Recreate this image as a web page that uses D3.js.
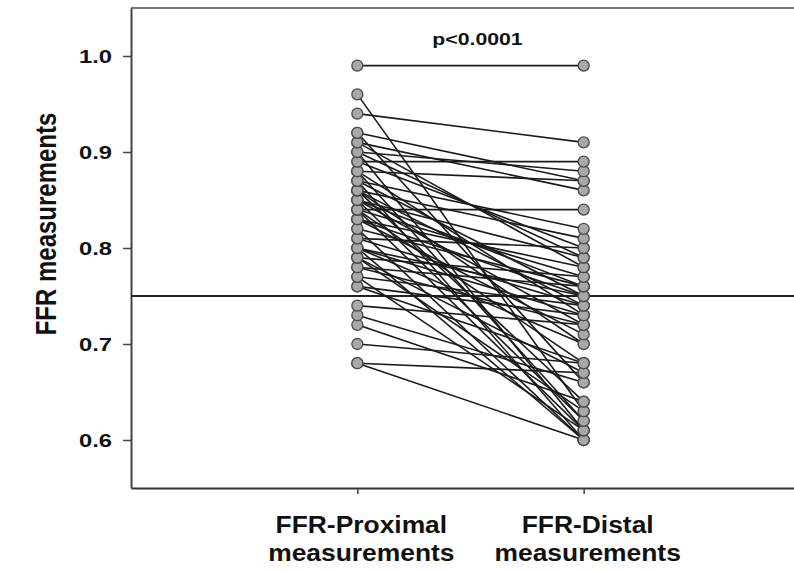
<!DOCTYPE html>
<html>
<head>
<meta charset="utf-8">
<script src="https://cdn.jsdelivr.net/npm/d3@7"></script>
<style>
  body { margin: 0; background: #fff; }
  text { font-family: "Liberation Sans", Arial, sans-serif; font-weight: bold; fill: #111; }
</style>
</head>
<body>
<svg width="794" height="571"></svg>
<script>
const categories = [["FFR-Proximal", "measurements"], ["FFR-Distal", "measurements"]];
const proximal = [0.99, 0.96, 0.94, 0.92, 0.92, 0.91, 0.91, 0.90, 0.90, 0.89, 0.89, 0.88, 0.88, 0.87, 0.87, 0.87,
    0.86, 0.86, 0.86, 0.85, 0.85, 0.85, 0.84, 0.84, 0.84, 0.83, 0.83, 0.82, 0.82, 0.81, 0.81, 0.80,
    0.80, 0.80, 0.79, 0.79, 0.78, 0.78, 0.77, 0.77, 0.76, 0.76, 0.74, 0.73, 0.72, 0.70, 0.68, 0.68,
    0.88, 0.84, 0.80, 0.79, 0.86, 0.83, 0.90, 0.85];
const distal = [0.99, 0.63, 0.91, 0.87, 0.66, 0.86, 0.78, 0.88, 0.61, 0.89, 0.80, 0.87, 0.73, 0.82, 0.75, 0.60,
    0.81, 0.74, 0.64, 0.79, 0.72, 0.62, 0.84, 0.77, 0.68, 0.78, 0.71, 0.76, 0.60, 0.80, 0.74, 0.75,
    0.70, 0.73, 0.77, 0.67, 0.76, 0.72, 0.74, 0.61, 0.73, 0.68, 0.72, 0.66, 0.64, 0.68, 0.67, 0.60,
    0.62, 0.61, 0.60, 0.63, 0.70, 0.75, 0.79, 0.76];
const yTicks = [0.6, 0.7, 0.8, 0.9, 1.0];
const cutoff = 0.75;
const pLabel = "p<0.0001";
const yTitle = "FFR measurements";

const svg = d3.select("svg"),
    sx = 1.25; // text in the source figure is stretched sideways

const x = d3.scaleLinear().domain([0, 3]).range([131, 810]);
const y = d3.scaleLinear().domain([0.55, 1.05]).range([488, 8]);

// top frame line
svg.append("line")
    .attr("x1", x(0)).attr("x2", 794)
    .attr("y1", y(1.05)).attr("y2", y(1.05))
    .attr("stroke", "#777").attr("stroke-width", 2);

// y axis
const gy = svg.append("g")
    .attr("transform", `translate(${x(0)},0)`)
    .call(d3.axisLeft(y).tickValues(yTicks).tickFormat(d3.format(".1f")).tickSize(8).tickPadding(11).tickSizeOuter(0));
gy.select(".domain").attr("stroke", "#444").attr("stroke-width", 2);
gy.selectAll(".tick line").attr("stroke", "#444").attr("stroke-width", 1.5);
gy.selectAll(".tick text")
    .attr("font-size", 19).attr("font-family", null)
    .attr("x", -19 / sx).attr("dy", "0.36em")
    .attr("transform", `scale(${sx},1)`);

// x axis
const gx = svg.append("g")
    .attr("transform", `translate(0,${y(0.55)})`)
    .call(d3.axisBottom(x).tickValues([1, 2]).tickFormat("").tickSize(6).tickSizeOuter(0));
gx.select(".domain").attr("stroke", "#333").attr("stroke-width", 2);
gx.selectAll(".tick line").attr("stroke", "#444").attr("stroke-width", 1.5);

// category labels
categories.forEach((lines, i) => {
    lines.forEach((t, j) => {
        svg.append("text")
            .attr("transform", `translate(${x(i + 1) + 4},${533 + j * 28}) scale(1.1,1)`)
            .attr("text-anchor", "middle")
            .attr("font-size", 24)
            .text(t);
    });
});

// y title
svg.append("text")
    .attr("transform", `translate(56,224) rotate(-90) scale(1,${sx})`)
    .attr("text-anchor", "middle")
    .attr("font-size", 24)
    .text(yTitle);

// cutoff line
svg.append("line")
    .attr("x1", x(0)).attr("x2", 794)
    .attr("y1", y(cutoff)).attr("y2", y(cutoff))
    .attr("stroke", "#222").attr("stroke-width", 2);

// paired lines
const pairs = proximal.map((p, i) => ({ p, d: distal[i] }));
svg.append("g").selectAll("line")
    .data(pairs)
    .join("line")
    .attr("x1", x(1)).attr("x2", x(2))
    .attr("y1", d => y(d.p)).attr("y2", d => y(d.d))
    .attr("stroke", "#1a1a1a").attr("stroke-width", 1.6);

// dots
const dots = svg.append("g");
[proximal, distal].forEach((vals, i) => {
    dots.append("g").selectAll("circle")
        .data(vals.slice().sort(d3.ascending))
        .join("circle")
        .attr("cx", x(i + 1))
        .attr("cy", d => y(d))
        .attr("r", 5.5)
        .attr("fill", "#a8a8a8")
        .attr("stroke", "#4a4a4a")
        .attr("stroke-width", 1.3);
});

// p value
svg.append("text")
    .attr("transform", `translate(${(x(1) + x(2)) / 2 + 7},45) scale(${sx},1)`)
    .attr("text-anchor", "middle")
    .attr("font-size", 17)
    .text(pLabel);
</script>
</body>
</html>
